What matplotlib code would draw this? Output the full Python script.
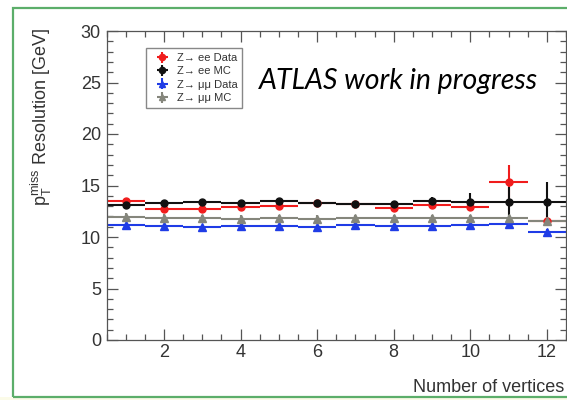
import matplotlib
matplotlib.use("Agg")
import matplotlib.pyplot as plt
from matplotlib.ticker import MultipleLocator
from matplotlib.patches import Rectangle

# Number of reconstructed vertices (bin centres, unit-width bins)
n_vertices = [1, 2, 3, 4, 5, 6, 7, 8, 9, 10, 11, 12]

# MET resolution [GeV] and statistical uncertainties
ee_data = [13.5, 12.7, 12.75, 12.95, 13.0, 13.3, 13.25, 12.8, 13.1, 12.95, 15.35, 11.55]
ee_data_err = [0.2, 0.15, 0.15, 0.15, 0.15, 0.2, 0.2, 0.2, 0.25, 0.3, 1.6, 0.3]

ee_mc = [13.15, 13.3, 13.35, 13.3, 13.45, 13.3, 13.2, 13.2, 13.5, 13.4, 13.4, 13.4]
ee_mc_err = [0.15, 0.15, 0.15, 0.15, 0.15, 0.15, 0.2, 0.2, 0.35, 0.9, 1.5, 1.95]

mumu_data = [11.15, 11.1, 11.0, 11.05, 11.1, 11.0, 11.2, 11.1, 11.1, 11.15, 11.3, 10.5]
mumu_data_err = [0.15, 0.15, 0.15, 0.15, 0.15, 0.15, 0.15, 0.15, 0.15, 0.2, 0.2, 0.3]

mumu_mc = [11.95, 11.85, 11.8, 11.75, 11.8, 11.75, 11.8, 11.8, 11.8, 11.8, 11.8, 11.6]
mumu_mc_err = [0.35, 0.35, 0.35, 0.35, 0.35, 0.35, 0.35, 0.35, 0.35, 0.35, 0.35, 0.35]

bin_half_width = 0.5

series = [
    ("Z\u2192 ee Data", ee_data, ee_data_err, "o", "#f01c1c"),
    ("Z\u2192 ee MC", ee_mc, ee_mc_err, "o", "#111111"),
    ("Z\u2192 \u03bc\u03bc Data", mumu_data, mumu_data_err, "^", "#1f3ce6"),
    ("Z\u2192 \u03bc\u03bc MC", mumu_mc, mumu_mc_err, "^", "#85867c"),
]

plt.rcParams["font.family"] = ["Liberation Sans", "DejaVu Sans"]
plt.rcParams["mathtext.fontset"] = "custom"
plt.rcParams["mathtext.rm"] = "Liberation Sans"
plt.rcParams["mathtext.it"] = "Liberation Sans:italic"

W, H = 567, 400
fig = plt.figure(figsize=(W / 100, H / 100), dpi=100)
fig.patch.set_facecolor("white")

# page frame
fig.patches.append(Rectangle((0, 0), 1, 3 / H, transform=fig.transFigure,
                             facecolor="#fbfbe8", edgecolor="none", zorder=0))
fig.patches.append(Rectangle((13 / W, 1 - 397 / H), 1.2, (397 - 8) / H,
                             transform=fig.transFigure, facecolor="none",
                             edgecolor="#5cae6a", linewidth=1.6, zorder=1))

left, right, top, bottom = 106.5, 566, 31, 340
ax = fig.add_axes([left / W, 1 - bottom / H, (right - left) / W, (bottom - top) / H])

axis_col = "#555555"
for label, y, yerr, marker, col in series:
    ax.errorbar(n_vertices, y, xerr=bin_half_width, yerr=yerr, fmt=marker,
                color=col, ecolor=col, markersize=5 if marker == "o" else 5.5,
                elinewidth=1.5, capsize=0, label=label)

ax.set_xlim(0.5, 12.5)
ax.set_ylim(0, 30)
ax.xaxis.set_major_locator(MultipleLocator(2))
ax.xaxis.set_minor_locator(MultipleLocator(0.5))
ax.yaxis.set_major_locator(MultipleLocator(5))
ax.yaxis.set_minor_locator(MultipleLocator(1))
ax.tick_params(which="both", direction="in", top=True, right=True,
               color=axis_col, width=0.9)
ax.tick_params(which="major", length=8, labelsize=13, labelcolor="#333333")
ax.tick_params(which="minor", length=4)
ax.tick_params(axis="x", which="major", pad=3)
ax.tick_params(axis="y", which="major", pad=4)
for s in ax.spines.values():
    s.set_color(axis_col)
    s.set_linewidth(0.9)

fig.text(564 / W, 1 - 387 / H, "Number of vertices", ha="right", va="center",
         fontsize=13, color="#333333")
fig.text(41 / W, 1 - 28 / H,
         r"$\mathregular{p_{T}^{miss}}$ Resolution [GeV]",
         rotation=90, ha="center", va="top", fontsize=13, color="#333333")

fig.text(259 / W, 1 - 81 / H, "ATLAS work in progress", ha="left", va="center",
         fontsize=20.5, style="italic", family=["Lato", "DejaVu Sans"], color="black")

leg = ax.legend(loc="upper left", bbox_to_anchor=(146 / W, 1 - 48 / H),
                bbox_transform=fig.transFigure, borderaxespad=0,
                fontsize=8, frameon=True, fancybox=False, framealpha=1,
                edgecolor="#888888", handlelength=2.0, handletextpad=0.3,
                labelspacing=0.3, borderpad=0.45, markerscale=0.9)
leg.get_frame().set_linewidth(1.0)
for t in leg.get_texts():
    t.set_color("#333333")

fig.savefig("out.png", dpi=100)
